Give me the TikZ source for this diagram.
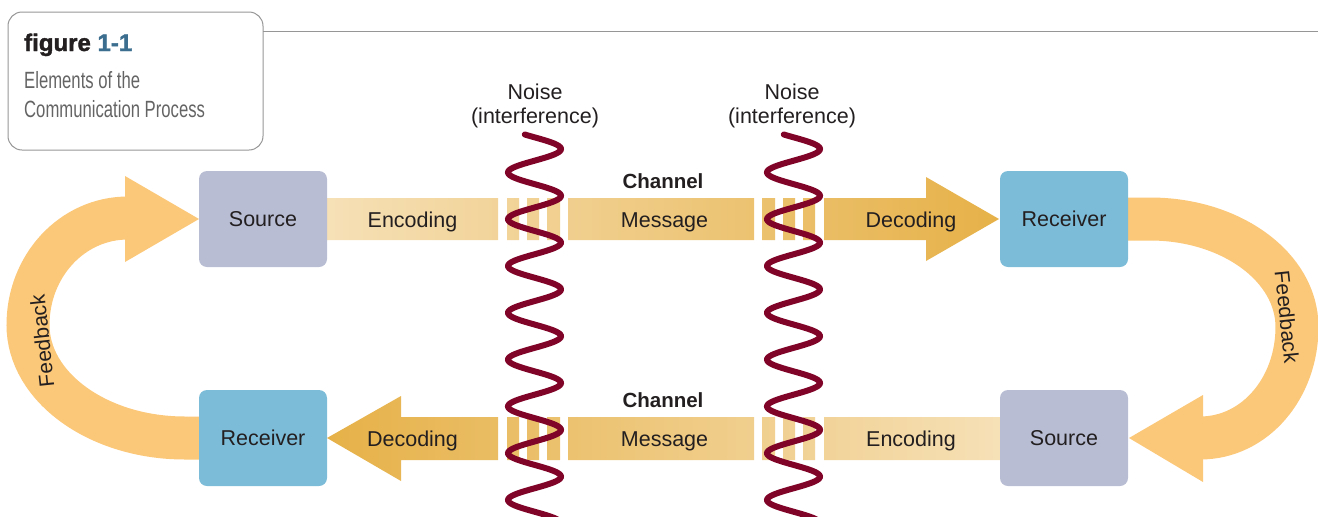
\documentclass[tikz,border=0pt]{standalone}
\usepackage{fontspec}
\setmainfont{Liberation Sans}
\newfontfamily\condfont[FakeStretch=0.71]{Liberation Sans}
\newfontfamily\figfont[BoldFeatures={FakeBold=1.6}]{Liberation Sans}
\definecolor{srcc}{RGB}{184,189,212}
\definecolor{rcvc}{RGB}{125,188,216}
\definecolor{fbc}{RGB}{251,199,120}
\definecolor{barlight}{RGB}{246,224,182}
\definecolor{bardark}{RGB}{230,177,72}
\definecolor{noisec}{RGB}{128,4,40}
\definecolor{txtc}{RGB}{35,31,32}
\definecolor{figblue}{RGB}{60,110,143}
\definecolor{titlegray}{RGB}{100,100,100}
\definecolor{framegray}{RGB}{150,150,150}
\begin{document}
\begin{tikzpicture}[x=1pt,y=-1pt,
  boxnode/.style={rounded corners=8pt, minimum width=128pt, minimum height=96pt, inner sep=0pt, text=txtc, font=\fontsize{21.5}{24}\selectfont},
  barlabel/.style={anchor=base, text=txtc, inner sep=0pt, font=\fontsize{21.5}{24}\selectfont},
  chanlabel/.style={anchor=base, text=txtc, inner sep=0pt, font=\fontsize{20.5}{24}\selectfont\bfseries},
  noiselabel/.style={anchor=base, text=txtc, inner sep=0pt, font=\fontsize{21.5}{24}\selectfont},
  fblabel/.style={text=txtc, inner sep=0pt, font=\fontsize{21}{24}\selectfont},
  fbshaft/.style={draw=fbc, line width=43pt},
  noisewave/.style={draw=noisec, line width=6pt, line cap=round}
]
\useasboundingbox (0,0) rectangle (1318,517);

% title frame
\draw[framegray, line width=1pt, rounded corners=14pt] (8,12) rectangle (263,150);
\coordinate (tl) at (263,31);
\coordinate (tr) at (1318,31);
\draw[framegray, line width=1pt] (tl) -- (tr);
\node[anchor=base west, inner sep=0pt, text=txtc, font=\fontsize{24}{28}\figfont\bfseries] (figlabel) at (24,51) {figure \textcolor{figblue}{1-1}};
\node[anchor=base west, inner sep=0pt, text=titlegray, font=\fontsize{23.5}{28}\condfont] (tit1) at (24,88) {Elements of the};
\node[anchor=base west, inner sep=0pt, text=titlegray, font=\fontsize{23.5}{28}\condfont] (tit2) at (24,117) {Communication Process};

% feedback arrows
\coordinate (fbl0) at (200,438);
\coordinate (fbl1) at (128,218);
\draw[fbshaft] (fbl0) -- (185,438) .. controls (98,438) and (28,387) .. (28,325) .. controls (28,266) and (72,218) .. (fbl1);
\fill[fbc] (125,176) -- (199,219) -- (125,262) -- cycle;
\coordinate (fbr0) at (1127,219);
\coordinate (fbr1) at (1200,438);
\draw[fbshaft] (fbr0) -- (1150,219) .. controls (1231,219) and (1297,267) .. (1297,327) .. controls (1297,388) and (1255,438) .. (fbr1);
\fill[fbc] (1203,395) -- (1129,438) -- (1203,482) -- cycle;
\node[fblabel, rotate=96] (fbtl) at (42,341) {Feedback};
\node[fblabel, rotate=-84] (fbtr) at (1287,317) {Feedback};

% top bar
\shade[left color=barlight, right color=bardark]
  (327,198) rectangle (498,240)
  (507,198) rectangle (519,240)
  (527,198) rectangle (539,240)
  (547,198) rectangle (560,240)
  (568,198) rectangle (754,240)
  (762,198) rectangle (775,240)
  (783,198) rectangle (795,240)
  (803,198) rectangle (815,240)
  (824,198) -- (926,198) -- (926,177) -- (999,219) -- (926,261) -- (926,240) -- (824,240) -- cycle;
% bottom bar
\shade[left color=bardark, right color=barlight]
  (401,417) -- (401,396) -- (327,438) -- (401,481) -- (401,460) -- (498,460) -- (498,417) -- cycle
  (507,417) rectangle (519,460)
  (527,417) rectangle (539,460)
  (547,417) rectangle (560,460)
  (568,417) rectangle (754,460)
  (762,417) rectangle (775,460)
  (783,417) rectangle (795,460)
  (803,417) rectangle (815,460)
  (824,417) rectangle (1000,460);

% boxes
\node[boxnode, fill=srcc] (src1) at (263,219) {Source};
\node[boxnode, fill=rcvc] (rcv1) at (1064,219) {Receiver};
\node[boxnode, fill=rcvc] (rcv2) at (263,438) {Receiver};
\node[boxnode, fill=srcc] (src2) at (1064,438) {Source};

% bar labels
\node[barlabel] (enc1) at (412.5,227) {Encoding};
\node[barlabel] (msg1) at (664.5,227) {Message};
\node[barlabel] (dec1) at (911,227) {Decoding};
\node[barlabel] (dec2) at (412.5,446) {Decoding};
\node[barlabel] (msg2) at (664.5,446) {Message};
\node[barlabel] (enc2) at (911,446) {Encoding};
\node[chanlabel] (ch1) at (663,188) {Channel};
\node[chanlabel] (ch2) at (663,407) {Channel};

% noise
\node[noiselabel] (n1a) at (535,99) {Noise};
\node[noiselabel] (n1b) at (535,123) {(interference)};
\node[noiselabel] (n2a) at (792,99) {Noise};
\node[noiselabel] (n2b) at (792,123) {(interference)};
\draw[noisewave] plot[variable=\t, domain=134.5:522, samples=400, smooth] ({534.5+26.5*sin((\t-137.3)*7.6923)}, \t);
\draw[noisewave] plot[variable=\t, domain=134.5:522, samples=400, smooth] ({793.5+26.5*sin((\t-137.3)*7.6923)}, \t);
\end{tikzpicture}
\end{document}
